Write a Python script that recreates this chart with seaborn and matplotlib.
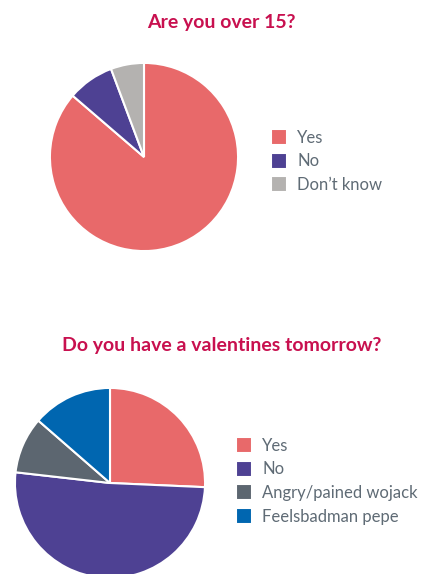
import matplotlib
matplotlib.use("Agg")
import matplotlib.pyplot as plt
import seaborn as sns

# survey answers (percent)
q1_title = "Are you over 15?"
q1_labels = ["Yes", "No", "Don\u2019t know"]
q1_values = [86.3, 8.0, 5.7]
q1_colors = ["#E8696A", "#4E4193", "#B4B2B0"]

q2_title = "Do you have a valentines tomorrow?"
q2_labels = ["Yes", "No", "Angry/pained wojack", "Feelsbadman pepe"]
q2_values = [25.7, 51.1, 9.6, 13.6]
q2_colors = ["#E8696A", "#4E4193", "#5C6670", "#0066B0"]

sns.set_theme(style="white")
plt.rcParams['font.family'] = ['Lato', 'DejaVu Sans']

TITLE_COLOR = "#C8104F"
TEXT_COLOR = "#5F6B75"

fig = plt.figure(figsize=(4.24, 5.74), dpi=100)


def draw_pie(rect, values, colors, labels, legend_xy):
    ax = fig.add_axes(rect)
    wedges, _ = ax.pie(values, colors=colors, startangle=90, counterclock=False,
                       wedgeprops=dict(edgecolor="white", linewidth=1.5))
    ax.set_xlim(-1.01, 1.01)
    ax.set_ylim(-1.01, 1.01)
    ax.set_aspect("equal")
    fig.legend(wedges, labels, loc="upper left", bbox_to_anchor=legend_xy,
               frameon=False, fontsize=12, labelcolor=TEXT_COLOR,
               handlelength=0.96, handleheight=1.1, handletextpad=0.62,
               labelspacing=0.42, borderaxespad=0, borderpad=0)
    return ax


# top chart
fig.text(0.521, 0.961, q1_title, ha="center", va="center", fontsize=14,
         fontweight="bold", color=TITLE_COLOR)
draw_pie([49 / 424, 1 - 252 / 574, 190 / 424, 190 / 574],
         q1_values, q1_colors, q1_labels, (271 / 424, 1 - 129 / 574))

# bottom chart
fig.text(0.523, 0.398, q2_title, ha="center", va="center", fontsize=14,
         fontweight="bold", color=TITLE_COLOR)
draw_pie([14 / 424, 1 - 579 / 574, 192 / 424, 192 / 574],
         q2_values, q2_colors, q2_labels, (236 / 424, 1 - 437 / 574))

plt.savefig("out.png", dpi=100)
plt.close()
